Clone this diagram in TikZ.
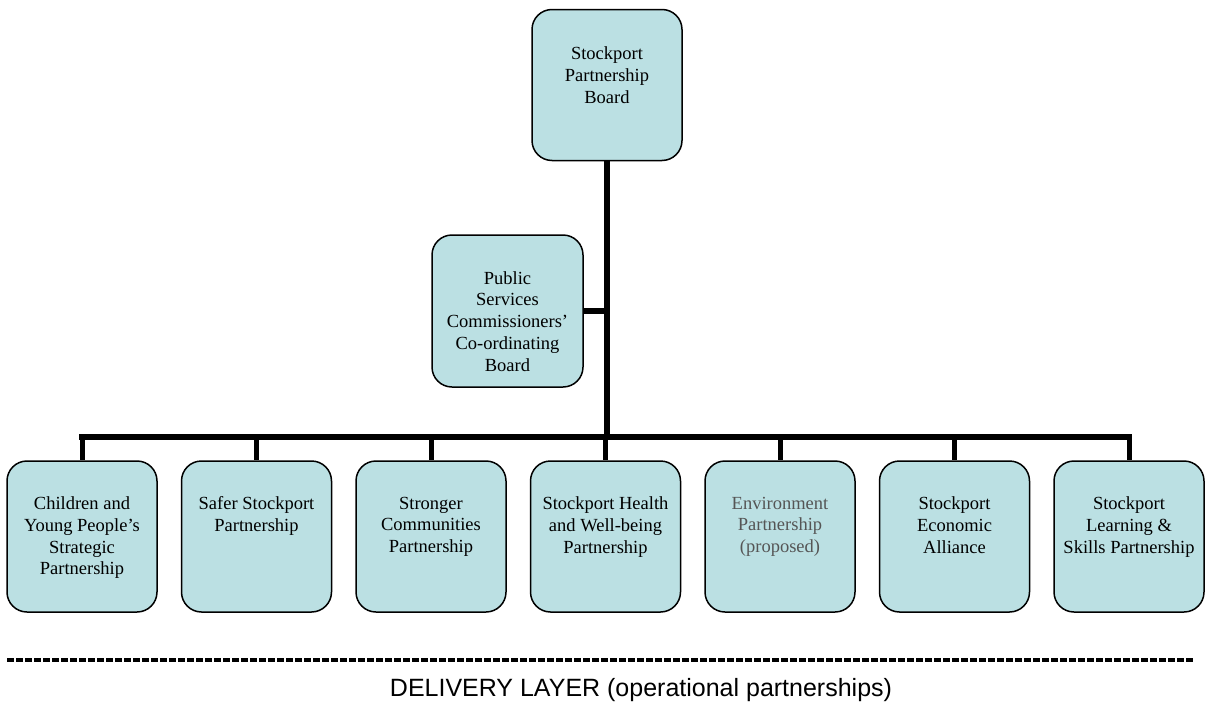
\documentclass[tikz,border=0pt]{standalone}
\usepackage{fontspec}
\setmainfont{Liberation Serif}
\newfontfamily\arialfont{Liberation Sans}
\definecolor{boxfill}{RGB}{187,224,227}
\definecolor{greytext}{RGB}{85,85,85}
\begin{document}
\begin{tikzpicture}[x=1pt,y=-1pt,
  orgbox/.style={draw=black, line width=1.5pt, fill=boxfill, rounded corners=20pt,
    minimum width=150pt, minimum height=151pt, inner sep=0pt},
  boxtext/.style={anchor=north, inner sep=0pt, align=center,
    font=\fontsize{18.5}{21.7}\selectfont},
  trunk/.style={line width=6.5pt},
  stub/.style={line width=5pt}]
\useasboundingbox (0,0) rectangle (1205,704);

% top and middle boxes
\node[orgbox] (top) at (607,85) {};
\node[boxtext] (toptxt) at ([yshift=-38]top.north) {Stockport\\Partnership\\Board};
\node[orgbox, minimum width=151pt, minimum height=152pt] (mid) at (507.5,311) {};
\node[boxtext] (midtxt) at ([yshift=-37]mid.north) {Public\\Services\\Commissioners'\\Co-ordinating\\Board};

% bottom boxes
\foreach \i/\x in {1/82,2/256.5,3/431,4/605.5,5/780,6/954.5,7/1129}{
  \node[orgbox] (b\i) at (\x,536.5) {};
}
\node[boxtext] (t1) at ([yshift=-36.5]b1.north) {Children and\\Young People's\\Strategic\\Partnership};
\node[boxtext] (t2) at ([yshift=-36.5]b2.north) {Safer Stockport\\Partnership};
\node[boxtext] (t3) at ([yshift=-36.5]b3.north) {Stronger\\Communities\\Partnership};
\node[boxtext] (t4) at ([yshift=-36.5]b4.north) {Stockport Health\\and Well-being\\Partnership};
\node[boxtext, text=greytext] (t5) at ([yshift=-36.5]b5.north) {Environment\\Partnership\\(proposed)};
\node[boxtext] (t6) at ([yshift=-36.5]b6.north) {Stockport\\Economic\\Alliance};
\node[boxtext] (t7) at ([yshift=-36.5]b7.north) {Stockport\\Learning \&\\Skills Partnership};

% connectors
\coordinate (barmid) at (top.south |- 0,437);
\coordinate (barL) at (b1.north |- 0,437);
\coordinate (barR) at (b7.north |- 0,437);
\draw[trunk] (top.south) -- (barmid);
\draw[trunk, line cap=rect] (barL) -- (barR);
\draw[trunk] (mid.east) -- (mid.east -| top.south);
\foreach \i in {1,...,7}{
  \draw[stub] (b\i.north |- 0,437) -- (b\i.north);
}

% delivery layer
\coordinate (dl) at (7,660);
\coordinate (dr) at (1194,660);
\draw[line width=4pt, dash pattern=on 7pt off 2pt] (dl) -- (dr);
\node[anchor=base, inner sep=0pt, font=\arialfont\fontsize{25}{30}\selectfont] (layer) at (641,696) {DELIVERY LAYER (operational partnerships)};
\end{tikzpicture}
\end{document}
